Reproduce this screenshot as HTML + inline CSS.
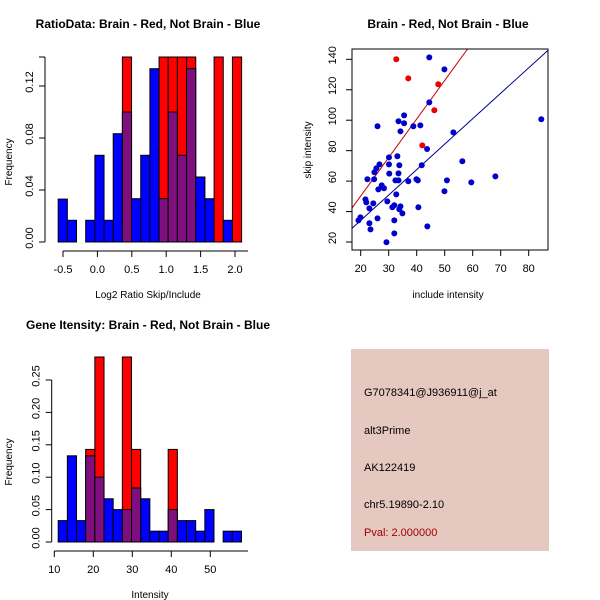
<!DOCTYPE html>
<html><head><meta charset="utf-8"><style>
body{margin:0;background:#fff}
svg{display:block;font-family:"Liberation Sans",Arial,sans-serif}
</style></head><body>
<svg id="c" width="600" height="600" viewBox="0 0 600 600">
<rect width="600" height="600" fill="#fff"/>
<g id="h1"></g>
<g id="sc"></g>
<g id="h2"></g>
<g>
<rect x="351" y="349" width="198" height="202" fill="#e5c8c0"/>
<text x="364" y="396" font-size="11" fill="#000">G7078341@J936911@j_at</text>
<text x="364" y="434" font-size="11" fill="#000">alt3Prime</text>
<text x="364" y="471" font-size="11" fill="#000">AK122419</text>
<text x="364" y="508" font-size="11" fill="#000">chr5.19890-2.10</text>
<text x="364" y="536" font-size="11" fill="#a00000">Pval: 2.000000</text>
</g>
</svg>
<script>
// ---- Ratio histogram data ----
const h1Start = -0.57, h1Width = 0.1333;
const h1Blue = [0.033,0.0167,0,0.0167,0.0667,0.0167,0.0833,0.1,0.0333,0.0667,0.1333,0.0333,0.1,0.0667,0.1333,0.05,0.0333,0,0.0167,0];
const h1Red  = [0,0,0,0,0,0,0,0.1429,0,0,0,0.1429,0.1429,0.1429,0.1429,0,0,0.1429,0,0.1429];
const h1XTicks = [-0.5,0.0,0.5,1.0,1.5,2.0];
const h1XLabels = ["-0.5","0.0","0.5","1.0","1.5","2.0"];
const h1YTicks = [0,0.04,0.08,0.12];
const h1YLabels = ["0.00","0.04","0.08","0.12"];
// ---- Intensity histogram data ----
const h2Start = 11.0, h2Width = 2.35;
const h2Blue = [0.033,0.133,0.033,0.133,0.1,0.0667,0.05,0.05,0.0833,0.0667,0.0167,0.0167,0.05,0.033,0.033,0.0167,0.05,0,0.0167,0.0167];
const h2Red  = [0,0,0,0.1429,0.2857,0,0,0.2857,0.1429,0,0,0,0.1429,0,0,0,0,0,0,0];
const h2XTicks = [10,20,30,40,50];
const h2XLabels = ["10","20","30","40","50"];
const h2YTicks = [0,0.05,0.1,0.15,0.2,0.25];
const h2YLabels = ["0.00","0.05","0.10","0.15","0.20","0.25"];
// ---- Scatter data ----
const blueX = [44.5,49.9,44.5,53.1,84.5,56.3,68.1,59.5,50.8,49.9,43.7,41.3,38.8,35.5,35.5,33.5,34.2,26,30.1,33.1,26.7,25.6,24.9,24.8,22.4,30.1,33.8,30.2,33.5,41.8,32.4,33.5,37,39.9,40.4,27.5,28.3,26.3,32.7,21.7,22,24.5,23.1,29.5,31.3,32,34.2,33.8,34.9,40.6,19.2,19.9,26,23.1,23.5,32,32,29.2,43.8];
const blueY = [141.3,133.4,111.7,92,100.6,73,63.1,59.2,60.5,53.3,81.1,96.6,96,103.2,98,99.3,92.7,96,75.6,76.3,71,68.4,65.8,61.2,61.2,71,70.4,64.9,65.1,70.4,60.5,60.5,59.9,61.2,60.5,57.2,55.3,54.6,51.3,48,46,45.4,42.1,46.7,42.8,44.1,43.4,41.5,38.8,42.8,34.2,36.2,35.5,32.3,28.3,34.2,25.7,19.8,30.3];
const redX = [32.7,37,47.7,46.3,42];
const redY = [140,127.5,123.6,106.5,83.5];
const redLine = [-0.4, 2.53];   // intercept, slope
const blueLine = [0.73, 1.671];
const scXTicks = [20,30,40,50,60,70,80];
const scYTicks = [20,40,60,80,100,120,140];

const NS="http://www.w3.org/2000/svg";
function mk(parent,tag,attrs,name){
  const e=document.createElementNS(NS,tag);
  for(const k in attrs) e.setAttribute(k,attrs[k]);
  
  
  parent.appendChild(e); return e;
}
function txt(parent,x,y,s,name,extra){
  const t=mk(parent,'text',Object.assign({x:x,y:y,'font-size':11,'text-anchor':'middle',fill:'#000'},extra||{}),name);
  t.textContent=s; return t;
}
function hist(g,o){
  const sx=v=>o.x0+(v-o.xv0)*o.kx, sy=v=>o.y0-v*o.ky;
  for(let i=0;i<o.blue.length;i++){
    const a=sx(o.start+i*o.w), b=sx(o.start+(i+1)*o.w);
    const bl=o.blue[i], rd=o.red[i];
    const hi=Math.max(bl,rd), lo=Math.min(bl,rd);
    if(hi<=0) continue;
    const top=Math.max(sy(hi),o.clipTop);
    mk(g,'rect',{x:a,y:top,width:b-a,height:o.y0-top,fill:bl>=rd?'#0000ff':'#ff0000',stroke:'#000','stroke-width':1},'bar-'+i);
    if(lo>0) mk(g,'rect',{x:a,y:sy(lo),width:b-a,height:o.y0-sy(lo),fill:'#7f0f7f',stroke:'#000','stroke-width':1},'overlap-bar-'+i);
  }
  // x axis
  const ax=o.y0+9;
  mk(g,'line',{x1:sx(o.xt[0]),y1:ax,x2:o.xAxisEnd,y2:ax,stroke:'#000'},'x-axis-line');
  o.xt.forEach((v,i)=>{mk(g,'line',{x1:sx(v),y1:ax,x2:sx(v),y2:ax+6,stroke:'#000'},'x-tick');
    txt(g,sx(v),ax+22,o.xl[i],'x-tick-label');});
  const ay=o.yAxisX;
  mk(g,'line',{x1:ay,y1:o.y0,x2:ay,y2:o.yAxisTop,stroke:'#000'},'y-axis-line');
  o.yt.forEach((v,i)=>{mk(g,'line',{x1:ay,y1:sy(v),x2:ay-6,y2:sy(v),stroke:'#000'},'y-tick');
    txt(g,ay-12,sy(v)+4,o.yl[i],'y-tick-label',{transform:`rotate(-90 ${ay-16} ${sy(v)})`});});
  if(o.extraTick) mk(g,'line',{x1:ay,y1:o.yAxisTop,x2:ay-6,y2:o.yAxisTop,stroke:'#000'},'y-tick');
}
const g1=document.getElementById('h1');
hist(g1,{x0:63,xv0:-0.5,kx:68.8,y0:242,ky:1300,clipTop:57,start:h1Start,w:h1Width,blue:h1Blue,red:h1Red,
  xt:h1XTicks,xl:h1XLabels,yt:h1YTicks,yl:h1YLabels,xAxisEnd:248,yAxisX:45,yAxisTop:57,extraTick:true});
txt(g1,148,28,'RatioData: Brain - Red, Not Brain - Blue','plot-title',{'font-weight':'bold','font-size':12});
txt(g1,148,298,'Log2 Ratio Skip/Include','x-axis-title',{'font-size':10});
txt(g1,12,162,'Frequency','y-axis-title',{'font-size':10,transform:'rotate(-90 12 162)'});

const g2=document.getElementById('h2');
hist(g2,{x0:54.3,xv0:10,kx:3.9,y0:542,ky:648,clipTop:357,start:h2Start,w:h2Width,blue:h2Blue,red:h2Red,
  xt:h2XTicks,xl:h2XLabels,yt:h2YTicks,yl:h2YLabels,xAxisEnd:248,yAxisX:51.7,yAxisTop:380});
txt(g2,148,329,'Gene Itensity: Brain - Red, Not Brain - Blue','plot-title',{'font-weight':'bold','font-size':12});
txt(g2,150,598,'Intensity','x-axis-title',{'font-size':10});
txt(g2,12,462,'Frequency','y-axis-title',{'font-size':10,transform:'rotate(-90 12 462)'});

// scatter
const gs=document.getElementById('sc');
const L=352,R=548,T=49,B=250;
const sx=v=>360.7+(v-20)*2.8, sy=v=>242-(v-20)*1.5225;
const cp=mk(gs,'clipPath',{id:'scClip'},'scatter-clip');
mk(cp,'rect',{x:L,y:T,width:R-L,height:B-T},'clip-rect');
const lines=mk(gs,'g',{'clip-path':'url(#scClip)'},'fit-lines');
[[redLine,'#cc0000','red-fit-line'],[blueLine,'#00008b','blue-fit-line']].forEach(([ln,c,n])=>{
  const xa=10,xb=95;
  mk(lines,'line',{x1:sx(xa),y1:sy(ln[0]+ln[1]*xa),x2:sx(xb),y2:sy(ln[0]+ln[1]*xb),stroke:c,'stroke-width':1},n);
});
blueX.forEach((x,i)=>mk(gs,'circle',{cx:sx(x),cy:sy(blueY[i]),r:3,fill:'#0000cc'},'blue-point'));
redX.forEach((x,i)=>mk(gs,'circle',{cx:sx(x),cy:sy(redY[i]),r:3,fill:'#ee0000'},'red-point'));
mk(gs,'rect',{x:L,y:T,width:R-L,height:B-T,fill:'none',stroke:'#000'},'plot-box');
scXTicks.forEach(v=>{mk(gs,'line',{x1:sx(v),y1:B,x2:sx(v),y2:B+6,stroke:'#000'},'x-tick');
  txt(gs,sx(v),B+22,String(v),'x-tick-label');});
scYTicks.forEach(v=>{mk(gs,'line',{x1:L,y1:sy(v),x2:L-6,y2:sy(v),stroke:'#000'},'y-tick');
  txt(gs,L-16,sy(v)+4,String(v),'y-tick-label',{transform:`rotate(-90 ${L-20} ${sy(v)})`});});
txt(gs,448,28,'Brain - Red, Not Brain - Blue','plot-title',{'font-weight':'bold','font-size':12});
txt(gs,448,298,'include intensity','x-axis-title',{'font-size':10});
txt(gs,311,150,'skip intensity','y-axis-title',{'font-size':10,transform:'rotate(-90 311 150)'});
</script>
</body></html>
